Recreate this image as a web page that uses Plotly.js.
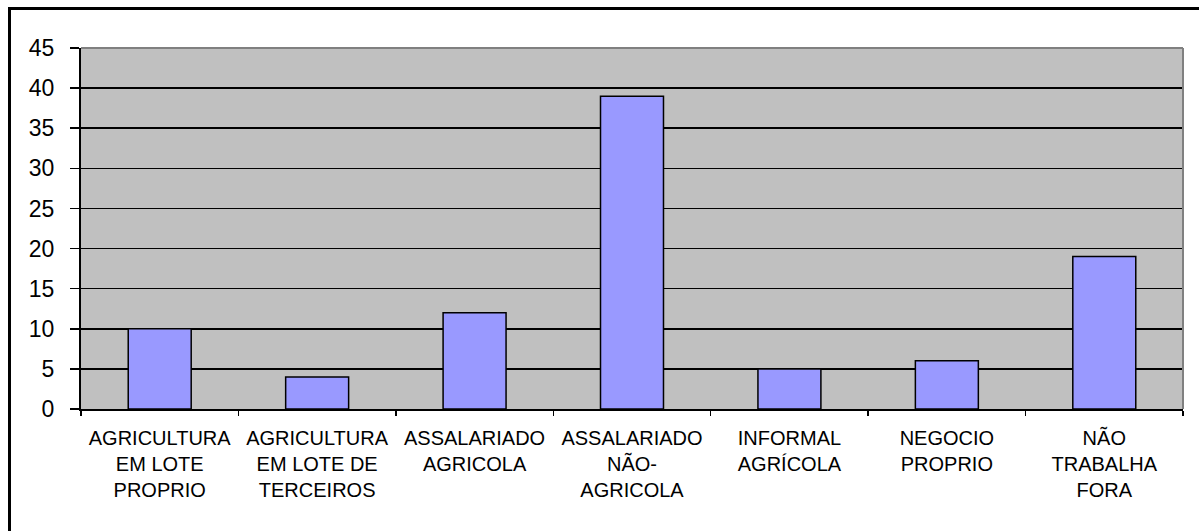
<!DOCTYPE html>
<html>
<head>
<meta charset="utf-8">
<script src="https://cdn.plot.ly/plotly-3.0.1.min.js"></script>
<style>
  html, body { margin: 0; padding: 0; background: #ffffff; overflow: hidden; }
  #chart { position: absolute; left: 0; top: 0; width: 1199px; height: 531px; }
  #frame { position: absolute; left: 8px; top: 7px; width: 1300px; height: 700px;
           border-left: 3px solid #000; border-top: 3px solid #000; pointer-events: none; z-index: 10; }
</style>
</head>
<body>
<div id="chart"></div>
<div id="frame"></div>
<script>
const categories = [
  "AGRICULTURA<br>EM LOTE<br>PROPRIO",
  "AGRICULTURA<br>EM LOTE DE<br>TERCEIROS",
  "ASSALARIADO<br>AGRICOLA",
  "ASSALARIADO<br>NÃO-<br>AGRICOLA",
  "INFORMAL<br>AGRÍCOLA",
  "NEGOCIO<br>PROPRIO",
  "NÃO<br>TRABALHA<br>FORA"
];
const values = [10, 4, 12, 39, 5, 6, 19];
const yTicks = [0, 5, 10, 15, 20, 25, 30, 35, 40, 45];

const trace = {
  type: 'bar',
  x: categories,
  y: values,
  marker: { color: '#9999ff', line: { color: '#000000', width: 1.5 } },
  hoverinfo: 'none'
};

const layout = {
  width: 1199,
  height: 531,
  margin: { l: 81, r: 16, t: 48, b: 122 },
  paper_bgcolor: '#ffffff',
  plot_bgcolor: '#c0c0c0',
  bargap: 0.6,
  showlegend: false,
  font: { family: 'Liberation Sans, Arial, sans-serif', color: '#000000' },
  xaxis: {
    type: 'category',
    tickson: 'boundaries',
    ticks: 'outside',
    ticklen: 5,
    tickwidth: 1.5,
    tickcolor: '#000000',
    showline: true,
    linecolor: '#000000',
    linewidth: 2,
    showgrid: false,
    tickangle: 0,
    tickfont: { size: 20, color: '#000000' },
    ticklabelstandoff: 10,
    fixedrange: true
  },
  yaxis: {
    range: [0, 45],
    tickmode: 'array',
    tickvals: yTicks,
    ticktext: yTicks.map(String),
    ticks: 'outside',
    ticklen: 9,
    tickwidth: 1.5,
    tickcolor: '#000000',
    showline: true,
    linecolor: '#000000',
    linewidth: 2,
    showgrid: true,
    gridcolor: '#000000',
    gridwidth: 1.5,
    zeroline: false,
    tickfont: { size: 23, color: '#000000' },
    ticklabelstandoff: 11,
    fixedrange: true
  },
  shapes: [
    { type: 'line', xref: 'paper', yref: 'paper', x0: 0, x1: 1, y0: 1, y1: 1,
      line: { color: '#808080', width: 2 }, layer: 'above' },
    { type: 'line', xref: 'paper', yref: 'paper', x0: 1, x1: 1, y0: 0, y1: 1,
      line: { color: '#808080', width: 2 }, layer: 'above' }
  ]
};

Plotly.newPlot('chart', [trace], layout, { staticPlot: true, displayModeBar: false });
</script>
</body>
</html>
